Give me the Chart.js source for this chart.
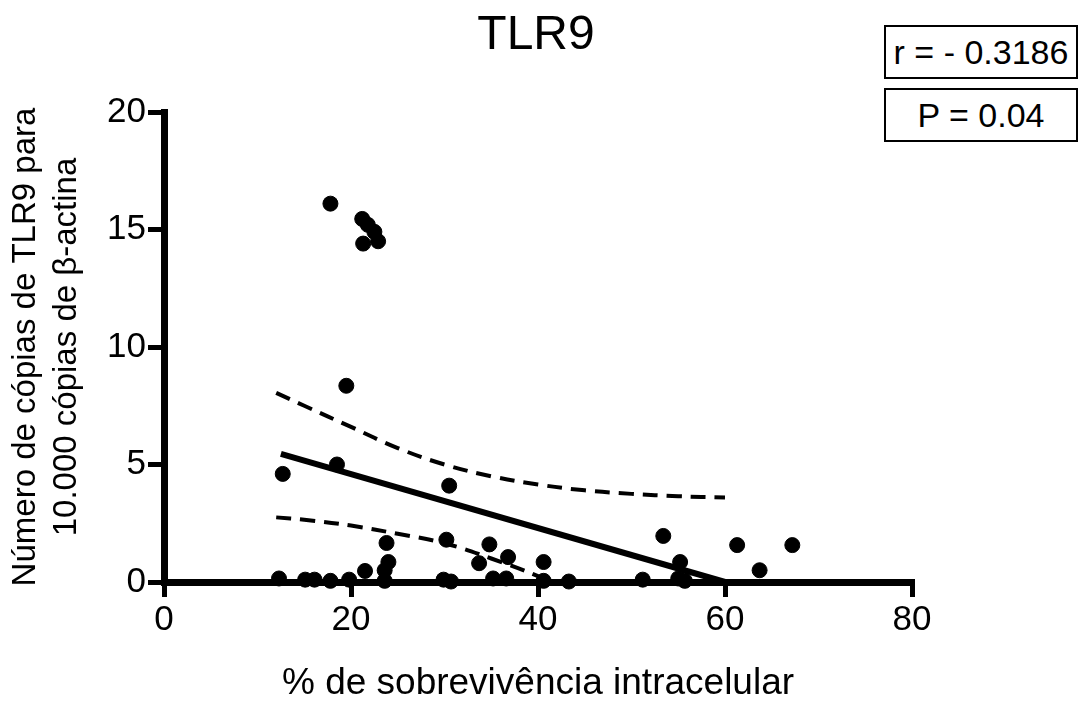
<!DOCTYPE html>
<html lang="pt">
<head>
  <meta charset="UTF-8" />
  <title>TLR9</title>
  <script src="https://cdn.jsdelivr.net/npm/chart.js"></script>
  <style>
    body {
      margin: 0;
      background: #fff;
      font-family: 'Liberation Sans', Arial, sans-serif;
    }
    #wrap {
      position: relative;
      width: 1082px;
      height: 702px;
    }
    #title {
      position: absolute;
      left: 386px;
      width: 300px;
      top: 9px;
      text-align: center;
      font-size: 48px;
      line-height: 48px;
    }
    .stat {
      position: absolute;
      left: 884px;
      width: 190px;
      height: 50px;
      border: 2px solid #000;
      text-align: center;
      font-size: 34px;
      line-height: 50px;
      background: #fff;
      white-space: nowrap;
    }
  </style>
</head>
<body>
  <div id="wrap">
    <canvas id="tlrChart" width="1082" height="702"></canvas>
    <div id="title">TLR9</div>
    <div class="stat" style="top:25px">r = - 0.3186</div>
    <div class="stat" style="top:88px">P = 0.04</div>
  </div>

  <script>
    // % de sobrevivência intracelular vs. cópias de TLR9
    const survivalX = [
      17.8, 21.2, 21.8, 22.5, 21.3, 22.9,
      19.5, 12.7, 18.5, 30.5,
      23.8, 24.0, 23.6, 21.5, 30.2, 34.8, 33.7, 36.8, 40.6,
      53.4, 55.2, 61.3, 63.7, 67.2,
      12.3, 15.1, 16.1, 17.8, 19.8, 23.6, 29.9, 30.7, 35.2, 36.6, 40.6, 43.3, 51.2, 55.0, 55.7
    ];
    const tlr9Copies = [
      16.1, 15.45, 15.2, 14.9, 14.4, 14.5,
      8.35, 4.6, 5.0, 4.1,
      1.66, 0.85, 0.5, 0.47, 1.8, 1.6, 0.8, 1.06, 0.85,
      1.96, 0.85, 1.57, 0.5, 1.57,
      0.15, 0.1, 0.1, 0.05, 0.1, 0.05, 0.1, 0.02, 0.15, 0.15, 0.05, 0.02, 0.1, 0.15, 0.05
    ];

    const fitX = [12.5, 60];
    const fitY = [5.45, 0];

    const upperX = [12, 15, 20, 25, 30, 35, 40, 45, 50, 55, 60];
    const upperY = [8.05, 7.5, 6.6, 5.7, 5.0, 4.5, 4.15, 3.9, 3.75, 3.65, 3.6];
    const lowerX = [12, 15, 20, 25, 30, 35, 40, 41];
    const lowerY = [2.75, 2.65, 2.4, 2.05, 1.65, 1.0, 0.25, 0];

    const xTicks = [0, 20, 40, 60, 80];
    const yTicks = [0, 5, 10, 15, 20];

    const pairs = (xs, ys) => xs.map((x, i) => ({ x: x, y: ys[i] }));

    const font = 'Liberation Sans';

    new Chart(document.getElementById('tlrChart'), {
      type: 'scatter',
      data: {
        datasets: [
          {
            label: 'TLR9',
            data: pairs(survivalX, tlr9Copies),
            backgroundColor: '#000',
            borderColor: '#000',
            pointRadius: 7.5,
            clip: false
          },
          {
            label: 'Regressão',
            type: 'line',
            data: pairs(fitX, fitY),
            borderColor: '#000',
            borderWidth: 6,
            pointRadius: 0,
            clip: false
          },
          {
            label: 'IC superior',
            type: 'line',
            data: pairs(upperX, upperY),
            borderColor: '#000',
            borderWidth: 4,
            borderDash: [15, 9],
            pointRadius: 0,
            tension: 0.4,
            clip: false
          },
          {
            label: 'IC inferior',
            type: 'line',
            data: pairs(lowerX, lowerY),
            borderColor: '#000',
            borderWidth: 4,
            borderDash: [15, 9],
            pointRadius: 0,
            tension: 0.4,
            clip: false
          }
        ]
      },
      options: {
        responsive: false,
        animation: false,
        layout: { padding: { top: 112, right: 170, left: 0, bottom: 0 } },
        plugins: {
          legend: { display: false },
          tooltip: { enabled: false }
        },
        scales: {
          x: {
            type: 'linear',
            min: 0,
            max: 80,
            afterBuildTicks: s => { s.ticks = xTicks.map(v => ({ value: v })); },
            afterFit: s => { s.height = 120; },
            border: { color: '#000', width: 7 },
            grid: { drawOnChartArea: false, color: '#000', lineWidth: 5, tickLength: 15 },
            ticks: { color: '#000', font: { family: font, size: 35 }, padding: 2 },
            title: {
              display: true,
              text: '% de sobrevivência intracelular',
              color: '#000',
              font: { family: font, size: 37, lineHeight: 1.0 },
              padding: { top: 0, bottom: 0 }
            }
          },
          y: {
            type: 'linear',
            min: 0,
            max: 20,
            afterBuildTicks: s => { s.ticks = yTicks.map(v => ({ value: v })); },
            afterFit: s => { s.width = 164; },
            border: { color: '#000', width: 7 },
            grid: { drawOnChartArea: false, color: '#000', lineWidth: 5, tickLength: 16 },
            ticks: { color: '#000', font: { family: font, size: 35 }, padding: 2 },
            title: {
              display: true,
              text: ['Número de cópias de TLR9 para', '10.000 cópias de β-actina'],
              color: '#000',
              font: { family: font, size: 33, lineHeight: 1.25 },
              padding: { top: 5 }
            }
          }
        }
      }
    });
  </script>
</body>
</html>
